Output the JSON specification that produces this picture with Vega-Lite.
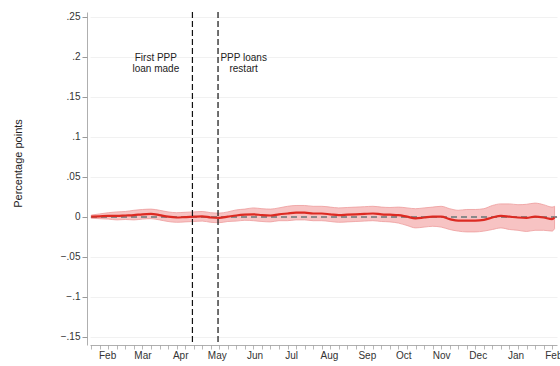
{
  "$schema": "https://vega.github.io/schema/vega-lite/v6.json",
  "width": 467,
  "height": 333,
  "autosize": {"type": "none"},
  "padding": {"left": 90, "top": 12, "right": 3, "bottom": 21},
  "background": "white",
  "config": {
    "view": {"stroke": null},
    "font": "Liberation Sans",
    "axis": {"labelFont": "Liberation Sans", "titleFont": "Liberation Sans"}
  },
  "datasets": {
    "series": [
      {"date": "2020-01-19", "est": 0.0, "lo": -0.002, "hi": 0.002},
      {"date": "2020-01-26", "est": 0.0005, "lo": -0.0025, "hi": 0.0035},
      {"date": "2020-02-02", "est": 0.001, "lo": -0.003, "hi": 0.005},
      {"date": "2020-02-09", "est": 0.001, "lo": -0.004, "hi": 0.006},
      {"date": "2020-02-16", "est": 0.0015, "lo": -0.0035, "hi": 0.0065},
      {"date": "2020-02-23", "est": 0.002, "lo": -0.004, "hi": 0.008},
      {"date": "2020-03-01", "est": 0.003, "lo": -0.003, "hi": 0.009},
      {"date": "2020-03-08", "est": 0.0035, "lo": -0.0025, "hi": 0.0095},
      {"date": "2020-03-15", "est": 0.002, "lo": -0.004, "hi": 0.008},
      {"date": "2020-03-22", "est": 0.0, "lo": -0.006, "hi": 0.006},
      {"date": "2020-03-29", "est": -0.001, "lo": -0.007, "hi": 0.005},
      {"date": "2020-04-05", "est": -0.0005, "lo": -0.0065, "hi": 0.0055},
      {"date": "2020-04-12", "est": 0.0, "lo": -0.006, "hi": 0.006},
      {"date": "2020-04-19", "est": 0.0005, "lo": -0.0055, "hi": 0.0065},
      {"date": "2020-04-26", "est": -0.001, "lo": -0.007, "hi": 0.005},
      {"date": "2020-05-03", "est": -0.0015, "lo": -0.0075, "hi": 0.0045},
      {"date": "2020-05-10", "est": 0.0, "lo": -0.006, "hi": 0.006},
      {"date": "2020-05-17", "est": 0.0015, "lo": -0.0055, "hi": 0.0085},
      {"date": "2020-05-24", "est": 0.0025, "lo": -0.0045, "hi": 0.0095},
      {"date": "2020-05-31", "est": 0.003, "lo": -0.005, "hi": 0.011},
      {"date": "2020-06-07", "est": 0.002, "lo": -0.006, "hi": 0.01},
      {"date": "2020-06-14", "est": 0.0015, "lo": -0.0065, "hi": 0.0095},
      {"date": "2020-06-21", "est": 0.003, "lo": -0.005, "hi": 0.011},
      {"date": "2020-06-28", "est": 0.004, "lo": -0.005, "hi": 0.013},
      {"date": "2020-07-05", "est": 0.005, "lo": -0.004, "hi": 0.014},
      {"date": "2020-07-12", "est": 0.005, "lo": -0.004, "hi": 0.014},
      {"date": "2020-07-19", "est": 0.004, "lo": -0.005, "hi": 0.013},
      {"date": "2020-07-26", "est": 0.004, "lo": -0.005, "hi": 0.013},
      {"date": "2020-08-02", "est": 0.003, "lo": -0.006, "hi": 0.012},
      {"date": "2020-08-09", "est": 0.002, "lo": -0.007, "hi": 0.011},
      {"date": "2020-08-16", "est": 0.0025, "lo": -0.0065, "hi": 0.0115},
      {"date": "2020-08-23", "est": 0.003, "lo": -0.006, "hi": 0.012},
      {"date": "2020-08-30", "est": 0.0035, "lo": -0.0055, "hi": 0.0125},
      {"date": "2020-09-06", "est": 0.004, "lo": -0.005, "hi": 0.013},
      {"date": "2020-09-13", "est": 0.003, "lo": -0.006, "hi": 0.012},
      {"date": "2020-09-20", "est": 0.0025, "lo": -0.0065, "hi": 0.0115},
      {"date": "2020-09-27", "est": 0.002, "lo": -0.008, "hi": 0.012},
      {"date": "2020-10-04", "est": 0.0, "lo": -0.011, "hi": 0.011},
      {"date": "2020-10-11", "est": -0.002, "lo": -0.014, "hi": 0.01},
      {"date": "2020-10-18", "est": -0.001, "lo": -0.013, "hi": 0.011},
      {"date": "2020-10-25", "est": 0.0, "lo": -0.012, "hi": 0.012},
      {"date": "2020-11-01", "est": 0.0, "lo": -0.013, "hi": 0.013},
      {"date": "2020-11-08", "est": -0.003, "lo": -0.016, "hi": 0.01},
      {"date": "2020-11-15", "est": -0.005, "lo": -0.018, "hi": 0.008},
      {"date": "2020-11-22", "est": -0.005, "lo": -0.019, "hi": 0.009},
      {"date": "2020-11-29", "est": -0.005, "lo": -0.019, "hi": 0.009},
      {"date": "2020-12-06", "est": -0.004, "lo": -0.018, "hi": 0.01},
      {"date": "2020-12-13", "est": -0.001, "lo": -0.016, "hi": 0.014},
      {"date": "2020-12-20", "est": 0.001, "lo": -0.014, "hi": 0.016},
      {"date": "2020-12-27", "est": 0.0, "lo": -0.016, "hi": 0.016},
      {"date": "2021-01-03", "est": -0.001, "lo": -0.017, "hi": 0.015},
      {"date": "2021-01-10", "est": -0.0015, "lo": -0.0185, "hi": 0.0155},
      {"date": "2021-01-17", "est": 0.0, "lo": -0.017, "hi": 0.017},
      {"date": "2021-01-24", "est": -0.001, "lo": -0.017, "hi": 0.015},
      {"date": "2021-01-31", "est": -0.003, "lo": -0.018, "hi": 0.012},
      {"date": "2021-02-02", "est": -0.001, "lo": -0.015, "hi": 0.013}
    ],
    "events": [
      {"date": "2020-04-11"},
      {"date": "2020-05-02"}
    ],
    "notes": [
      {"date": "2020-03-12", "y": 0.199, "label": "First PPP\nloan made"},
      {"date": "2020-05-23", "y": 0.199, "label": "PPP loans\nrestart"}
    ]
  },
  "resolve": {"axis": {"x": "independent"}},
  "layer": [
    {
      "data": {"name": "series"},
      "mark": {"type": "area", "interpolate": "monotone", "fill": "#f6b8b8", "fillOpacity": 0.85, "stroke": "#ee9c9c", "strokeWidth": 0.8},
      "encoding": {
        "x": {
          "field": "date", "type": "temporal",
          "scale": {"type": "utc", "domain": [{"year": 2020, "month": 1, "date": 18, "utc": true}, {"year": 2021, "month": 2, "date": 4, "utc": true}]},
          "axis": {"orient": "bottom", "title": null, "labels": false, "grid": false, "tickCount": {"interval": "week"}, "tickSize": 4, "tickColor": "#9a9a9a", "tickWidth": 0.7, "domainColor": "#9a9a9a", "domainWidth": 0.8}
        },
        "y": {
          "field": "lo", "type": "quantitative", "title": "Percentage points",
          "scale": {"domain": [-0.1604, 0.2559], "nice": false, "zero": false},
          "axis": {
            "values": [-0.15, -0.1, -0.05, 0, 0.05, 0.1, 0.15, 0.2, 0.25],
            "labelExpr": "replace(format(datum.value, '~g'), '0.', '.')",
            "offset": 3, "grid": true, "gridColor": "#ededed", "gridWidth": 0.8,
            "tickSize": 5, "tickColor": "#9a9a9a", "domainColor": "#9a9a9a", "domainWidth": 0.8,
            "labelFontSize": 10, "labelColor": "#333333", "labelPadding": 2,
            "titleFontSize": 11, "titleFontWeight": "normal", "titleColor": "#222222",
            "titleAngle": -90, "titleAlign": "center", "titleBaseline": "middle",
            "titleX": -69, "titleY": 151
          }
        },
        "y2": {"field": "hi"}
      }
    },
    {
      "data": {"name": "series"},
      "mark": {"type": "rule", "color": "#8a8a8a", "strokeDash": [6, 4], "strokeWidth": 1},
      "encoding": {"y": {"datum": 0, "type": "quantitative", "title": "Percentage points", "scale": {"domain": [-0.1604, 0.2559], "nice": false, "zero": false}}}
    },
    {
      "data": {"name": "series"},
      "mark": {"type": "line", "interpolate": "monotone", "color": "#dc2a22", "strokeWidth": 2.2},
      "encoding": {
        "x": {
          "field": "date", "type": "temporal",
          "scale": {"type": "utc", "domain": [{"year": 2020, "month": 1, "date": 18, "utc": true}, {"year": 2021, "month": 2, "date": 4, "utc": true}]},
          "axis": {"orient": "bottom", "title": null, "ticks": false, "domain": false, "grid": false, "tickCount": {"interval": "month"}, "format": "%b", "labelFontSize": 10, "labelColor": "#333333", "labelPadding": 5, "labelOverlap": false, "labelBound": false}
        },
        "y": {"field": "est", "type": "quantitative", "title": "Percentage points", "scale": {"domain": [-0.1604, 0.2559], "nice": false, "zero": false}}
      }
    },
    {
      "data": {"name": "events"},
      "mark": {"type": "rule", "color": "#111111", "strokeDash": [6, 3], "strokeWidth": 1.2},
      "encoding": {
        "x": {
          "field": "date", "type": "temporal", "axis": null,
          "scale": {"type": "utc", "domain": [{"year": 2020, "month": 1, "date": 18, "utc": true}, {"year": 2021, "month": 2, "date": 4, "utc": true}]}
        }
      }
    },
    {
      "data": {"name": "notes"},
      "mark": {"type": "text", "align": "center", "baseline": "middle", "lineBreak": "\n", "lineHeight": 11, "fontSize": 10, "color": "#222222"},
      "encoding": {
        "x": {
          "field": "date", "type": "temporal", "axis": null,
          "scale": {"type": "utc", "domain": [{"year": 2020, "month": 1, "date": 18, "utc": true}, {"year": 2021, "month": 2, "date": 4, "utc": true}]}
        },
        "y": {"field": "y", "type": "quantitative", "title": "Percentage points", "scale": {"domain": [-0.1604, 0.2559], "nice": false, "zero": false}},
        "text": {"field": "label"}
      }
    }
  ]
}
